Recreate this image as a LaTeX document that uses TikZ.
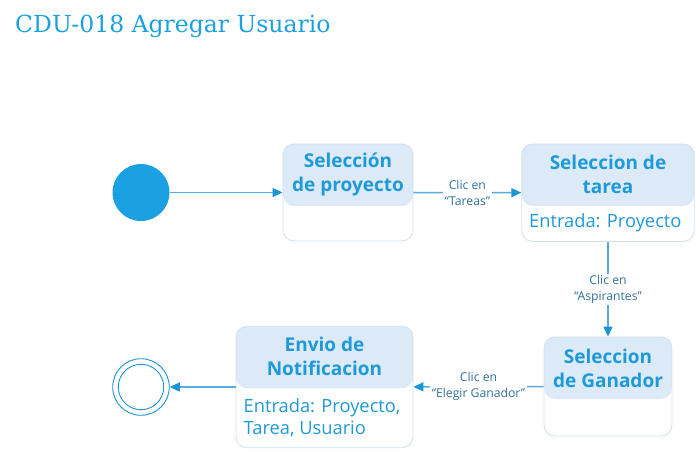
\documentclass[tikz,border=0pt]{standalone}
\usepackage{fontspec}
\setmainfont{Open Sans}
\newfontfamily\titlefont{DejaVu Serif}
\usepackage{tikz}
\usetikzlibrary{arrows.meta}

\definecolor{metro}{HTML}{1BA1E2}
\definecolor{headblue}{HTML}{DCE9F7}
\definecolor{edgeblue}{HTML}{D3E2F0}
\definecolor{lineblue}{HTML}{55ACDD}
\definecolor{tipblue}{HTML}{1B95D6}
\definecolor{textblue}{HTML}{1F9AD8}
\definecolor{lblblue}{HTML}{33729F}

\begin{document}
\begin{tikzpicture}[x=1pt,y=-1pt,
    state/.style={draw=edgeblue, line width=0.9pt, rounded corners=11pt, inner sep=0pt,
      path picture={\fill[headblue] (path picture bounding box.north west) rectangle ([yshift=-62pt]path picture bounding box.north east);}},
    head/.style={font=\bfseries\fontsize{19}{24}\selectfont, text=textblue, align=center, inner sep=0pt},
    body/.style={font=\fontsize{18.3}{21.5}\selectfont, text=textblue, align=left, anchor=west, inner sep=0pt},
    lbl/.style={font=\fontsize{12.2}{16}\selectfont, text=lblblue, align=center, fill=white, inner sep=1.5pt},
    flow/.style={draw=lineblue, line width=1.4pt, -{Triangle[length=10pt,width=9pt,color=tipblue]}}]
            \useasboundingbox (0,0) rectangle (696,451);
            \fill[white] (0,0) rectangle (696,451);

            % Draw title
            \node[anchor=base west, inner sep=0pt, text=metro, font=\titlefont\fontsize{23.5}{28}\selectfont] (titulo) at (15,32) {CDU-018 Agregar Usuario};

            % Draw initial and final state
            \node[circle, fill=metro, minimum size=57pt, inner sep=0pt] (ini) at (141,192.5) {};
            \node[circle, draw=tipblue, line width=0.9pt, minimum size=56.6pt, inner sep=0pt] (fin) at (141,387) {};
            \draw[tipblue, line width=0.9pt] (fin.center) circle (22.7pt);

            % Draw states
            \node[state, minimum width=130pt, minimum height=97pt] (proy) at (348,192.5) {};
            \node[state, minimum width=172.5pt, minimum height=97.5pt] (tarea) at (608,192.75) {};
            \node[state, minimum width=128pt, minimum height=99pt] (gana) at (608,386.5) {};
            \node[state, minimum width=177pt, minimum height=121.5pt] (envio) at (324.5,387) {};

            \node[head] (proy-h) at (348,174) {Selección\\de proyecto};
            \node[head] (tarea-h) at (608,174) {Seleccion de\\tarea};
            \node[head] (gana-h) at (608,368) {Seleccion\\de Ganador};
            \node[head] (envio-h) at (324.5,356) {Envio de\\Notificacion};

            \node[body] (tarea-b) at (529,223) {Entrada: Proyecto};
            \node[body] (envio-b) at (243.5,417.5) {Entrada: Proyecto,\\Tarea, Usuario};

            % Draw transitions
            \draw[flow] (ini) -- (proy);
            \draw[flow] (proy) -- node[lbl] {Clic en\\“Tareas”} (tarea);
            \draw[flow] (tarea) -- node[lbl] {Clic en\\“Aspirantes”} (gana);
            \draw[flow] (gana) -- node[lbl] {Clic en\\“Elegir Ganador”} (envio);
            \draw[flow] (envio) -- (fin);
        \end{tikzpicture}
\end{document}
